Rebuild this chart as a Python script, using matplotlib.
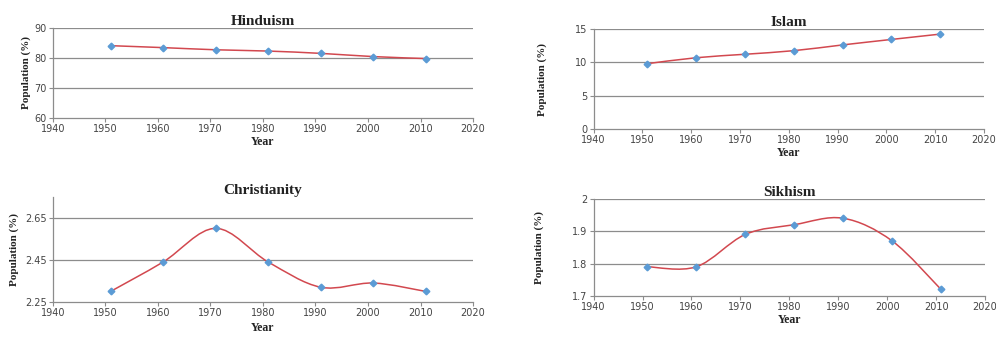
import numpy as np
import matplotlib
matplotlib.use("Agg")
import matplotlib.pyplot as plt
from matplotlib.path import Path
from matplotlib.patches import PathPatch

# ── Data (census years, % of population) ──────────────────────────────────────
years = [1951, 1961, 1971, 1981, 1991, 2001, 2011]
hinduism = [84.1, 83.45, 82.73, 82.30, 81.53, 80.46, 79.80]
islam = [9.80, 10.69, 11.21, 11.75, 12.61, 13.43, 14.23]
christianity = [2.30, 2.44, 2.60, 2.44, 2.32, 2.34, 2.30]
sikhism = [1.79, 1.79, 1.89, 1.92, 1.94, 1.87, 1.72]

x_ticks = [1940, 1950, 1960, 1970, 1980, 1990, 2000, 2010, 2020]

LINE = "#d2484f"
MARK = "#5b9bd5"
GRID = "#8c8c8c"
SERIF = "Liberation Serif"


def smooth_path(xs, ys):
    """Excel-style smoothed line: Catmull-Rom converted to cubic Beziers."""
    pts = np.column_stack([xs, ys]).astype(float)
    verts = [pts[0]]
    codes = [Path.MOVETO]
    n = len(pts)
    for i in range(n - 1):
        p0 = pts[i - 1] if i > 0 else pts[i]
        p1 = pts[i]
        p2 = pts[i + 1]
        p3 = pts[i + 2] if i + 2 < n else pts[i + 1]
        c1 = p1 + (p2 - p0) / 6
        c2 = p2 - (p3 - p1) / 6
        verts += [c1, c2, p2]
        codes += [Path.CURVE4] * 3
    return Path(verts, codes)


def panel(rect, title, vals, ylim, yticks, grid_vals, ytick_labels,
          ypad=4, xpad=1):
    ax = fig.add_axes(rect)
    ax.add_patch(PathPatch(smooth_path(years, vals), facecolor="none",
                           edgecolor=LINE, lw=1.1, zorder=3))
    ax.plot(years, vals, linestyle="none", marker="D", ms=3.4,
            color=MARK, zorder=4)
    ax.set_xlim(1940, 2020)
    ax.set_ylim(*ylim)
    ax.set_xticks(x_ticks)
    ax.set_yticks(yticks)
    ax.set_yticklabels(ytick_labels)
    for g in grid_vals:
        ax.axhline(g, color=GRID, lw=0.9, zorder=1)
    for s in ["top", "right"]:
        ax.spines[s].set_visible(False)
    for s in ["left", "bottom"]:
        ax.spines[s].set_color(GRID)
        ax.spines[s].set_linewidth(0.9)
    ax.tick_params(colors=GRID, length=3, width=0.8, labelsize=7,
                   labelcolor="#444444", pad=1.5)
    ax.set_title(title, fontfamily=SERIF, fontweight="bold", fontsize=11,
                 pad=2, color="#222222")
    ax.set_xlabel("Year", fontfamily=SERIF, fontweight="bold", fontsize=8.5,
                  labelpad=xpad, color="#222222")
    ax.set_ylabel("Population (%)", fontfamily=SERIF, fontweight="bold",
                  fontsize=8, labelpad=ypad, color="#222222")
    return ax


fig = plt.figure(figsize=(9.96, 3.37), dpi=100)

panel([0.053, 0.650, 0.422, 0.267], "Hinduism", hinduism,
      (60, 90), [60, 70, 80, 90], [70, 80, 90], ["60", "70", "80", "90"],
      ypad=2)
panel([0.596, 0.617, 0.392, 0.297], "Islam", islam,
      (0, 15), [0, 5, 10, 15], [5, 10, 15], ["0", "5", "10", "15"],
      ypad=20)
panel([0.053, 0.104, 0.422, 0.312], "Christianity", christianity,
      (2.25, 2.75), [2.25, 2.45, 2.65], [2.45, 2.65], ["2.25", "2.45", "2.65"],
      ypad=4, xpad=3)
panel([0.596, 0.122, 0.393, 0.288], "Sikhism", sikhism,
      (1.7, 2.0), [1.7, 1.8, 1.9, 2.0], [1.8, 1.9, 2.0],
      ["1.7", "1.8", "1.9", "2"], ypad=20)

fig.savefig("out.png", dpi=100)
